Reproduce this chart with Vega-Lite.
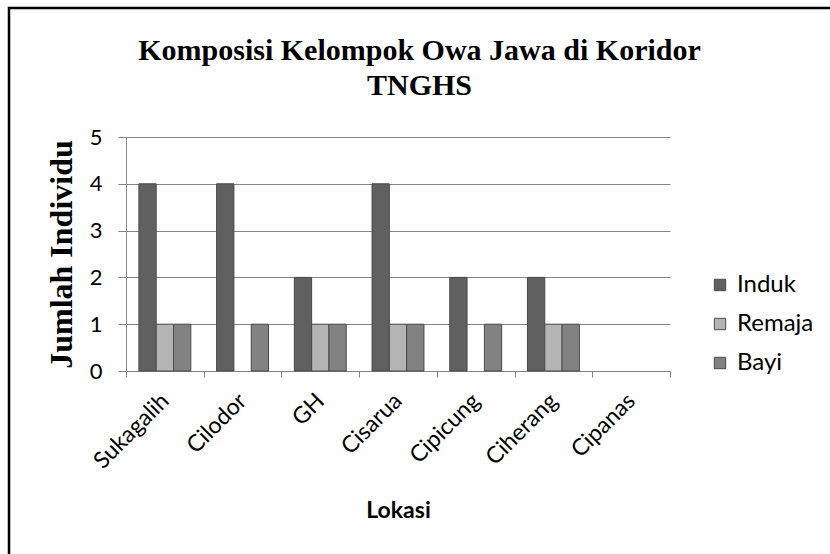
{
  "$schema": "https://vega.github.io/schema/vega-lite/v6.json",
  "autosize": "none",
  "width": 821,
  "height": 546,
  "padding": {"left": 9, "top": 8, "right": 0, "bottom": 0},
  "background": "white",
  "config": {
    "view": {"stroke": "black", "strokeWidth": 2.5, "strokeDash": [821, 1367, 546], "fill": "white"},
    "font": "Lato"
  },
  "title": {
    "text": ["Komposisi Kelompok Owa Jawa di Koridor", "TNGHS"],
    "font": "Liberation Serif",
    "fontSize": 30,
    "fontWeight": "bold",
    "lineHeight": 35,
    "anchor": "middle",
    "frame": "group",
    "offset": -93,
    "color": "black"
  },
  "data": {
    "values": [
      {"lokasi": "Sukagalih", "kelompok": "Induk", "jumlah": 4},
      {"lokasi": "Sukagalih", "kelompok": "Remaja", "jumlah": 1},
      {"lokasi": "Sukagalih", "kelompok": "Bayi", "jumlah": 1},
      {"lokasi": "Cilodor", "kelompok": "Induk", "jumlah": 4},
      {"lokasi": "Cilodor", "kelompok": "Remaja", "jumlah": 0},
      {"lokasi": "Cilodor", "kelompok": "Bayi", "jumlah": 1},
      {"lokasi": "GH", "kelompok": "Induk", "jumlah": 2},
      {"lokasi": "GH", "kelompok": "Remaja", "jumlah": 1},
      {"lokasi": "GH", "kelompok": "Bayi", "jumlah": 1},
      {"lokasi": "Cisarua", "kelompok": "Induk", "jumlah": 4},
      {"lokasi": "Cisarua", "kelompok": "Remaja", "jumlah": 1},
      {"lokasi": "Cisarua", "kelompok": "Bayi", "jumlah": 1},
      {"lokasi": "Cipicung", "kelompok": "Induk", "jumlah": 2},
      {"lokasi": "Cipicung", "kelompok": "Remaja", "jumlah": 0},
      {"lokasi": "Cipicung", "kelompok": "Bayi", "jumlah": 1},
      {"lokasi": "Ciherang", "kelompok": "Induk", "jumlah": 2},
      {"lokasi": "Ciherang", "kelompok": "Remaja", "jumlah": 1},
      {"lokasi": "Ciherang", "kelompok": "Bayi", "jumlah": 1},
      {"lokasi": "Cipanas", "kelompok": "Induk", "jumlah": 0},
      {"lokasi": "Cipanas", "kelompok": "Remaja", "jumlah": 0},
      {"lokasi": "Cipanas", "kelompok": "Bayi", "jumlah": 0}
    ]
  },
  "transform": [{"filter": "datum.jumlah > 0"}],
  "mark": {"type": "bar", "stroke": "#4a4a4a", "strokeWidth": 1},
  "encoding": {
    "x": {
      "field": "lokasi",
      "type": "nominal",
      "sort": null,
      "scale": {
        "domain": ["Sukagalih", "Cilodor", "GH", "Cisarua", "Cipicung", "Ciherang", "Cipanas"],
        "range": [117, 661],
        "paddingInner": 0,
        "paddingOuter": 0
      },
      "axis": {
        "orient": "bottom",
        "offset": -183,
        "tickBand": "extent",
        "labelAngle": -45,
        "labelAlign": "right",
        "labelBaseline": "middle",
        "labelFontSize": 23,
        "labelColor": "black",
        "labelPadding": 20,
        "domainColor": "#868686",
        "tickColor": "#868686",
        "tickSize": 6,
        "title": "Lokasi",
        "titleFontSize": 23,
        "titleFontWeight": "bold",
        "titleColor": "black",
        "titlePadding": 27,
        "grid": false
      }
    },
    "xOffset": {
      "field": "kelompok",
      "type": "nominal",
      "scale": {"domain": ["Induk", "Remaja", "Bayi"], "paddingInner": 0, "paddingOuter": 0.745}
    },
    "y": {
      "field": "jumlah",
      "type": "quantitative",
      "scale": {"domain": [0, 5], "range": [363, 129], "nice": false, "zero": true},
      "axis": {
        "orient": "left",
        "offset": -117,
        "values": [0, 1, 2, 3, 4, 5],
        "format": "d",
        "grid": true,
        "gridColor": "#868686",
        "gridWidth": 1,
        "domainColor": "#868686",
        "tickColor": "#868686",
        "tickSize": 8,
        "labelPadding": 16,
        "labelFontSize": 22,
        "labelColor": "black",
        "title": "Jumlah Individu",
        "titleFont": "Liberation Serif",
        "titleFontSize": 32,
        "titleFontWeight": "bold",
        "titleColor": "black",
        "titlePadding": 11
      }
    },
    "color": {
      "field": "kelompok",
      "type": "nominal",
      "scale": {"domain": ["Induk", "Remaja", "Bayi"], "range": ["#606060", "#b4b4b4", "#828282"]},
      "legend": {
        "orient": "none",
        "legendX": 699,
        "legendY": 265,
        "title": null,
        "symbolType": "square",
        "symbolSize": 130,
        "symbolStrokeColor": "#4a4a4a",
        "symbolStrokeWidth": 1,
        "symbolOpacity": 1,
        "labelFontSize": 24,
        "labelColor": "black",
        "labelOffset": 5,
        "rowPadding": 15,
        "padding": 0
      }
    }
  }
}
